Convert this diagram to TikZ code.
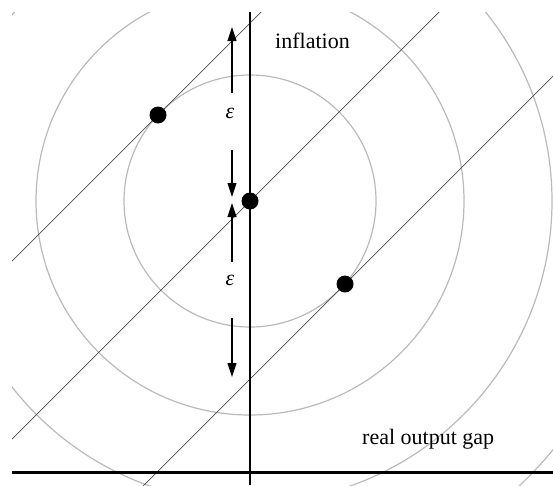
\documentclass[tikz,border=0pt]{standalone}
\usepackage{fontspec}
\setmainfont[Ligatures=CommonOff]{Liberation Serif}
\usetikzlibrary{arrows.meta}
\begin{document}
\begin{tikzpicture}[x=1pt,y=-1pt,
  ring/.style={draw=black!27, line width=1.2pt},
  pcurve/.style={draw=black!70, line width=0.7pt},
  axisline/.style={draw=black, line width=2.5pt},
  dot/.style={circle, fill=black, inner sep=0pt, minimum size=17pt},
  gaparrow/.style={-{Triangle[length=14pt,width=9pt]}, line width=1.1pt},
  lbl/.style={font=\fontsize{22}{26}\selectfont, inner sep=0pt}
]
\useasboundingbox (0,0) rectangle (553,485);
\coordinate (C) at (250,201);
% Phillips-type lines end points
\coordinate (u1) at (12,261);  \coordinate (u2) at (553,-280);
\coordinate (m1) at (12,439);  \coordinate (m2) at (553,-102);
\coordinate (l1) at (12,617);  \coordinate (l2) at (553,76);
\begin{scope}
  \clip (12,12) rectangle (553,485);
  \foreach \r in {126,214,302,392} \draw[ring] (C) circle[radius=\r];
  \draw[pcurve] (u1) -- (u2);
  \draw[pcurve] (m1) -- (m2);
  \draw[pcurve] (l1) -- (l2);
\end{scope}
% axes
\coordinate (vt) at (250,12);   \coordinate (vb) at (250,485);
\coordinate (hl) at (12,472.7); \coordinate (hr) at (553,472.7);
\draw[axisline] (vt) -- (vb);
\draw[axisline] (hl) -- (hr);
% dots
\node[dot] (dU) at (158,115) {};
\node[dot] (dC) at (C) {};
\node[dot] (dL) at (345,284) {};
% epsilon arrows
\coordinate (a1t) at (232,93);  \coordinate (a1h) at (232,27);
\coordinate (a2t) at (232,150); \coordinate (a2h) at (232,197);
\coordinate (a3t) at (232,262); \coordinate (a3h) at (232,203);
\coordinate (a4t) at (232,318); \coordinate (a4h) at (232,377);
\draw[gaparrow] (a1t) -- (a1h);
\draw[gaparrow] (a2t) -- (a2h);
\draw[gaparrow] (a3t) -- (a3h);
\draw[gaparrow] (a4t) -- (a4h);
\node[lbl] (e1) at (230,113) {\textit{ε}};
\node[lbl] (e2) at (230,280) {\textit{ε}};
% labels
\node[lbl, anchor=base west] (infl) at (275,48) {inflation};
\node[lbl, anchor=base west] (gap) at (362,444) {real output gap};
\end{tikzpicture}
\end{document}
